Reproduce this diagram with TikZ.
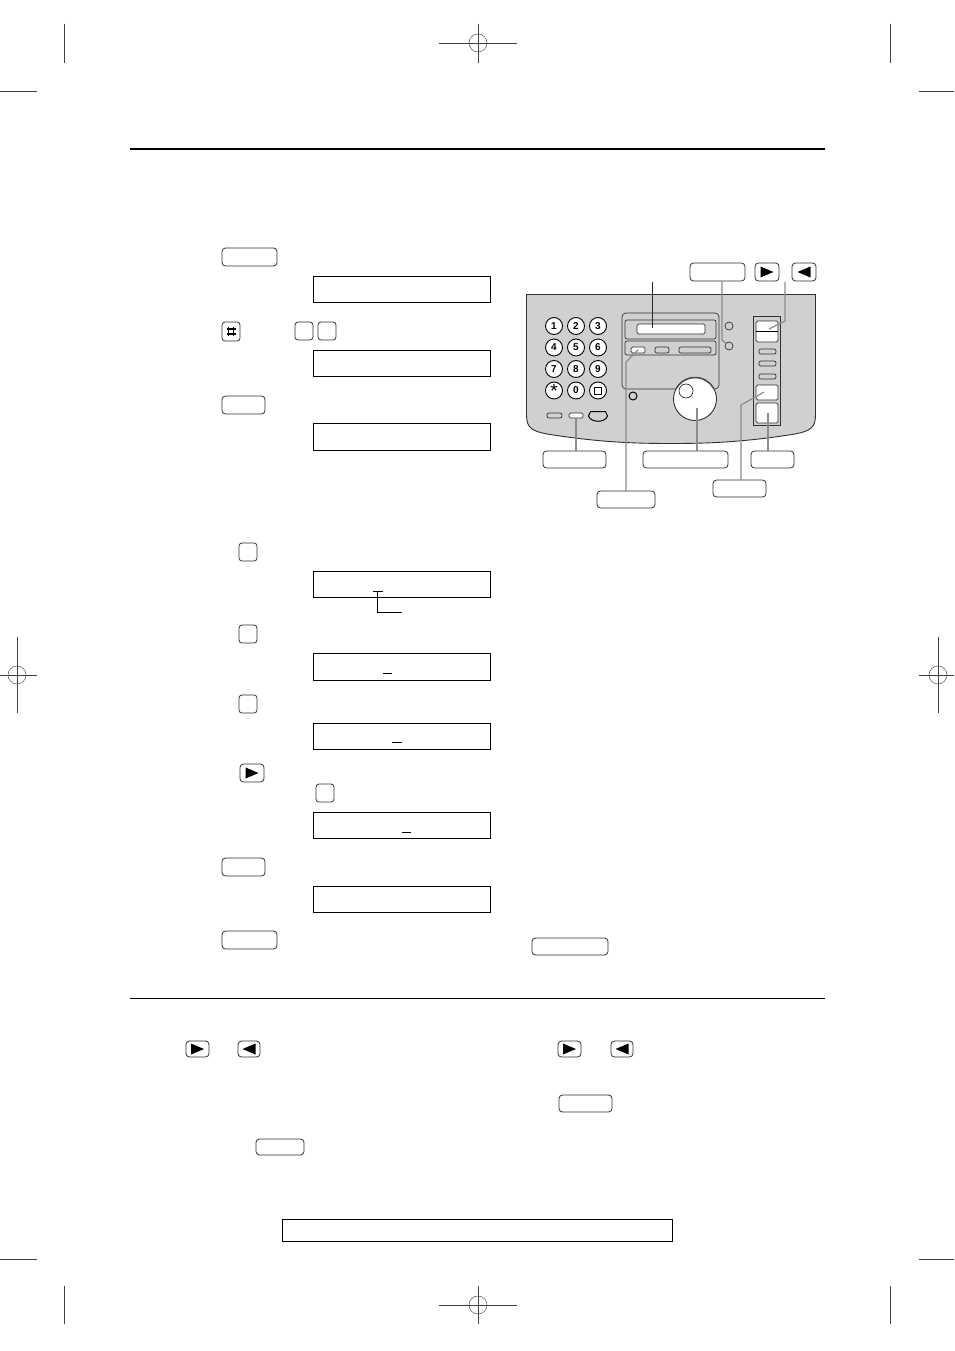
\documentclass[tikz,border=0pt]{standalone}
\usepackage{fontspec}
\setmainfont{Liberation Sans}
\definecolor{panelgray}{HTML}{D0D0D0}
\definecolor{leadgray}{HTML}{8C8C8C}
\definecolor{edge}{HTML}{303030}
\tikzset{
 anybox/.style={rectangle,inner sep=0pt,outer sep=0pt},
 lcd/.style={anybox,draw=black,line width=0.9pt,fill=white},
 btn/.style={anybox,draw=edge,line width=0.8pt,rounded corners=3.5pt,fill=white},
 sqkey/.style={btn,rounded corners=3pt},
 pnl/.style={anybox,draw=edge,line width=0.7pt,fill=panelgray,rounded corners=2pt},
 pbtn/.style={anybox,draw=edge,line width=0.7pt,fill=white,rounded corners=1.5pt},
 pgbtn/.style={anybox,draw=edge,line width=0.7pt,fill=panelgray,rounded corners=2pt},
 numkey/.style={circle,inner sep=0pt,outer sep=0pt,minimum size=17pt,draw=black,line width=0.9pt,fill=white,font=\bfseries\fontsize{10}{10}\selectfont},
 led/.style={circle,inner sep=0pt,outer sep=0pt,minimum size=8pt,draw=edge,line width=0.7pt,fill=panelgray},
 reg/.style={line width=0.45pt,draw=black!75},
 lead/.style={line width=1.2pt,draw=leadgray},
 leadk/.style={line width=1pt,draw=black!85},
 rule/.style={draw=black}
}
\newcommand{\bx}[6]{\node[#1,minimum width={(#5-#3)*1pt},minimum height={(#6-#4)*1pt}] (#2) at ({(#3+#5)/2},{(#4+#6)/2}) {};}
\newcommand{\lc}[5]{\bx{lcd}{#1}{#2+0.2}{#3+0.2}{#4-0.4}{#5-0.6}}
\newcommand{\rkey}[5]{\bx{btn}{#1}{#2}{#3}{#4}{#5}\fill ([shift={(-6.5,-5.5)}]#1.center) -- ++(13,5.5) -- ++(-13,5.5) -- cycle;}
\newcommand{\lkey}[5]{\bx{btn}{#1}{#2}{#3}{#4}{#5}\fill ([shift={(6.5,-5.5)}]#1.center) -- ++(-13,5.5) -- ++(13,5.5) -- cycle;}
\newcommand{\target}[3]{\node[circle,draw=black!75,line width=0.45pt,minimum size=18pt,inner sep=0pt] (#1) at (#2,#3) {};}
\begin{document}
\begin{tikzpicture}[x=1pt,y=-1pt]
\useasboundingbox (0,0) rectangle (954,1351);
% registration marks
\target{tt}{478}{43}\target{tb}{478}{1305}\target{tl}{17}{675}\target{tr}{938}{675}
\coordinate (tt1) at (439,43);\coordinate (tt2) at (517,43);\coordinate (tt3) at (478,24);\coordinate (tt4) at (478,63);
\coordinate (tb1) at (439,1305);\coordinate (tb2) at (517,1305);\coordinate (tb3) at (478,1286);\coordinate (tb4) at (478,1324);
\coordinate (tl1) at (0,675);\coordinate (tl2) at (37,675);\coordinate (tl3) at (17,637);\coordinate (tl4) at (17,713);
\coordinate (tr1) at (919,675);\coordinate (tr2) at (954,675);\coordinate (tr3) at (938,637);\coordinate (tr4) at (938,713);
\foreach \t in {tt,tb,tl,tr}{\draw[reg] (\t1)--(\t2) (\t3)--(\t4);}
\draw[reg] (64,24)--(64,63) (890,24)--(890,63) (64,1286)--(64,1324) (890,1286)--(890,1324);
\draw[reg] (0,91)--(37,91) (919,91)--(954,91) (0,1259)--(37,1259) (919,1259)--(954,1259);
% rules
\draw[rule,line width=1.8pt] (130,149)--(825,149);
\draw[rule,line width=0.7pt] (130,998)--(825,998);
\bx{lcd}{foot}{282}{1219}{672}{1241}
% left column
\bx{btn}{b1}{222}{248}{277}{266}
\lc{d1}{313}{276}{491}{303}
\bx{sqkey}{hash}{222}{322}{240}{341}
\draw[line width=1.7pt] ([shift={(-2.5,-4.5)}]hash.center)--++(0,9) ([shift={(2.5,-4.5)}]hash.center)--++(0,9) ([shift={(-4.5,-2.5)}]hash.center)--++(9,0) ([shift={(-4.5,2.5)}]hash.center)--++(9,0);
\bx{sqkey}{k1}{295}{322}{313}{340}
\bx{sqkey}{k2}{318}{322}{336}{340}
\lc{d2}{313}{350}{491}{377}
\bx{btn}{b2}{222}{396}{265}{414}
\lc{d3}{313}{423}{491}{451}
\bx{sqkey}{k3}{239}{543}{257}{561}
\lc{d4}{313}{571}{491}{598}
\coordinate (c1) at (373,591);\coordinate (c2) at (383,591);\coordinate (c3) at (377.5,591);\coordinate (c4) at (377.5,612);\coordinate (c5) at (402,612);
\draw[line width=0.9pt] (c1)--(c2) (c3)--(c4)--(c5);
\bx{sqkey}{k4}{239}{625}{257}{643}
\lc{d5}{313}{653}{491}{681}
\coordinate (u1) at (383,673);\coordinate (u2) at (392,673);\draw[line width=0.9pt] (u1)--(u2);
\bx{sqkey}{k5}{239}{695}{257}{713}
\lc{d6}{313}{723}{491}{750}
\coordinate (u3) at (392,742);\coordinate (u4) at (402,742);\draw[line width=0.9pt] (u3)--(u4);
\rkey{ar1}{240}{764}{264}{782}
\bx{sqkey}{k6}{316}{784}{334}{802}
\lc{d7}{313}{812}{491}{839}
\coordinate (u5) at (402,832);\coordinate (u6) at (411,832);\draw[line width=0.9pt] (u5)--(u6);
\bx{btn}{b3}{222}{858}{265}{876}
\lc{d8}{313}{886}{491}{913}
\bx{btn}{b4}{222}{931}{277}{949}
\bx{btn}{b5}{532}{938}{608}{955}
% bottom keys
\rkey{ar2}{186}{1041}{209}{1057}
\lkey{al2}{238}{1041}{260}{1057}
\rkey{ar3}{558}{1041}{581}{1057}
\lkey{al3}{611}{1041}{633}{1057}
\bx{btn}{b6}{559}{1095}{612}{1112}
\bx{btn}{b7}{256}{1139}{304}{1155}
% panel
\draw[draw=edge,line width=0.9pt,fill=panelgray] (526.5,294.5) -- (815.5,294.5) -- (815.5,415) .. controls (815.5,428) and (810,431) .. (795,434) .. controls (745,442) and (710,443.5) .. (671,443.5) .. controls (632,443.5) and (597,442) .. (547,434) .. controls (532,431) and (526.5,428) .. (526.5,415) -- cycle;
\foreach \n/\x/\y/\s in {1/554/326/1,2/576/326/2,3/598/326/3,4/554/347.5/4,5/576/347.5/5,6/598/347.5/6,7/554/369/7,8/576/369/8,9/598/369/9,10/576/390.5/0}{
 \node[numkey] (n\n) at (\x,\y) {\s};}
\node[numkey,font=\fontsize{19}{19}\selectfont] (nstar) at (554,390.5) {\raisebox{-6pt}{*}};
\node[numkey] (nsq) at (598,390.5) {};
\bx{anybox,draw=black,line width=1pt}{nsqi}{594.5}{387}{601.5}{394}
% display block
\bx{pnl,rounded corners=4pt}{bezel}{622}{313}{719}{389}
\bx{pnl}{win}{625}{320}{716}{339}
\bx{pbtn}{screen}{637}{324}{705}{334}
\bx{pnl}{strip}{625}{341}{716}{355}
\bx{pbtn}{s1}{631}{347}{645}{353}
\bx{pgbtn}{s2}{655}{347}{669}{353}
\bx{pgbtn}{s3}{679}{347}{711}{353}
\node[led] (led1) at (729,326) {};
\node[led] (led2) at (729,346) {};
\node[led,draw=black,line width=1pt] (led3) at (633,396) {};
\node[circle,draw=edge,line width=0.9pt,fill=white,minimum size=43pt,inner sep=0pt,outer sep=0pt] (dial) at (695,399) {};
\draw[line width=1.5pt,draw=black!70] (dial.150) arc[start angle=210,end angle=330,radius=21.5];
\node[circle,draw=edge,line width=0.7pt,fill=white,minimum size=14pt,inner sep=0pt] (dimp) at (686,391) {};
\bx{pgbtn}{p1}{547}{413}{562}{418}
\bx{pbtn}{p2}{569}{413}{583}{418}
\draw[draw=black,line width=1pt,fill=panelgray] (588.5,416) -- (590.5,411.5) -- (605.5,411.5) -- (607.5,416) .. controls (605,423) and (591,423) .. (588.5,416) -- cycle;
% right column
\bx{pnl,rounded corners=0pt}{col}{753}{316}{780}{425}
\bx{pbtn}{rock}{756}{321}{778}{342}
\coordinate (rockl) at (756,331);\coordinate (rockr) at (778,331);\draw[line width=1pt] (rockl)--(rockr);
\bx{pgbtn}{r1}{759}{349}{776}{354}
\bx{pgbtn}{r2}{759}{361}{776}{366}
\bx{pgbtn}{r3}{759}{374}{776}{379}
\bx{pbtn}{r4}{756}{385}{778}{400}
\bx{pbtn}{r5}{756}{403}{778}{423}
% callout labels
\bx{btn}{l1}{543}{451}{606}{468}
\bx{btn}{l2}{643}{451}{728}{468}
\bx{btn}{l3}{751}{451}{794}{468}
\bx{btn}{l4}{597}{491}{655}{508}
\bx{btn}{l5}{713}{480}{766}{497}
\bx{btn}{l6}{690}{263}{745}{281}
\rkey{ar4}{755}{263}{779}{281}
\lkey{al4}{792}{263}{816}{281}
% connectors
\coordinate (disptop) at (652,282);\coordinate (dispend) at (652,328);
\coordinate (arrtop) at (785,282);\coordinate (arrmid) at (785,321);\coordinate (arrend) at (769,329);
\coordinate (l6m) at (722,340);\coordinate (l4m) at (626,362);\coordinate (l5m) at (741,405);\coordinate (l5e) at (764,392);\coordinate (l4e) at (638,350);
\coordinate (dialpt) at (697,408);\coordinate (r5pt) at (768,413);\coordinate (p2pt) at (576,418);
\draw[leadk] (disptop)--(dispend);
\draw[lead] (l6.south -| l6m) -- (l6m) -- (led2);
\draw[lead] (arrtop)--(arrmid)--(arrend);
\draw[lead] (p2pt) -- (p2pt |- l1.north);
\draw[lead] (dialpt) -- (dialpt |- l2.north);
\draw[lead] (r5pt) -- (r5pt |- l3.north);
\draw[lead] (l5.north -| l5m) -- (l5m) -- (l5e);
\draw[lead] (l4.north -| l4m) -- (l4m) -- (l4e);
\end{tikzpicture}
\end{document}
